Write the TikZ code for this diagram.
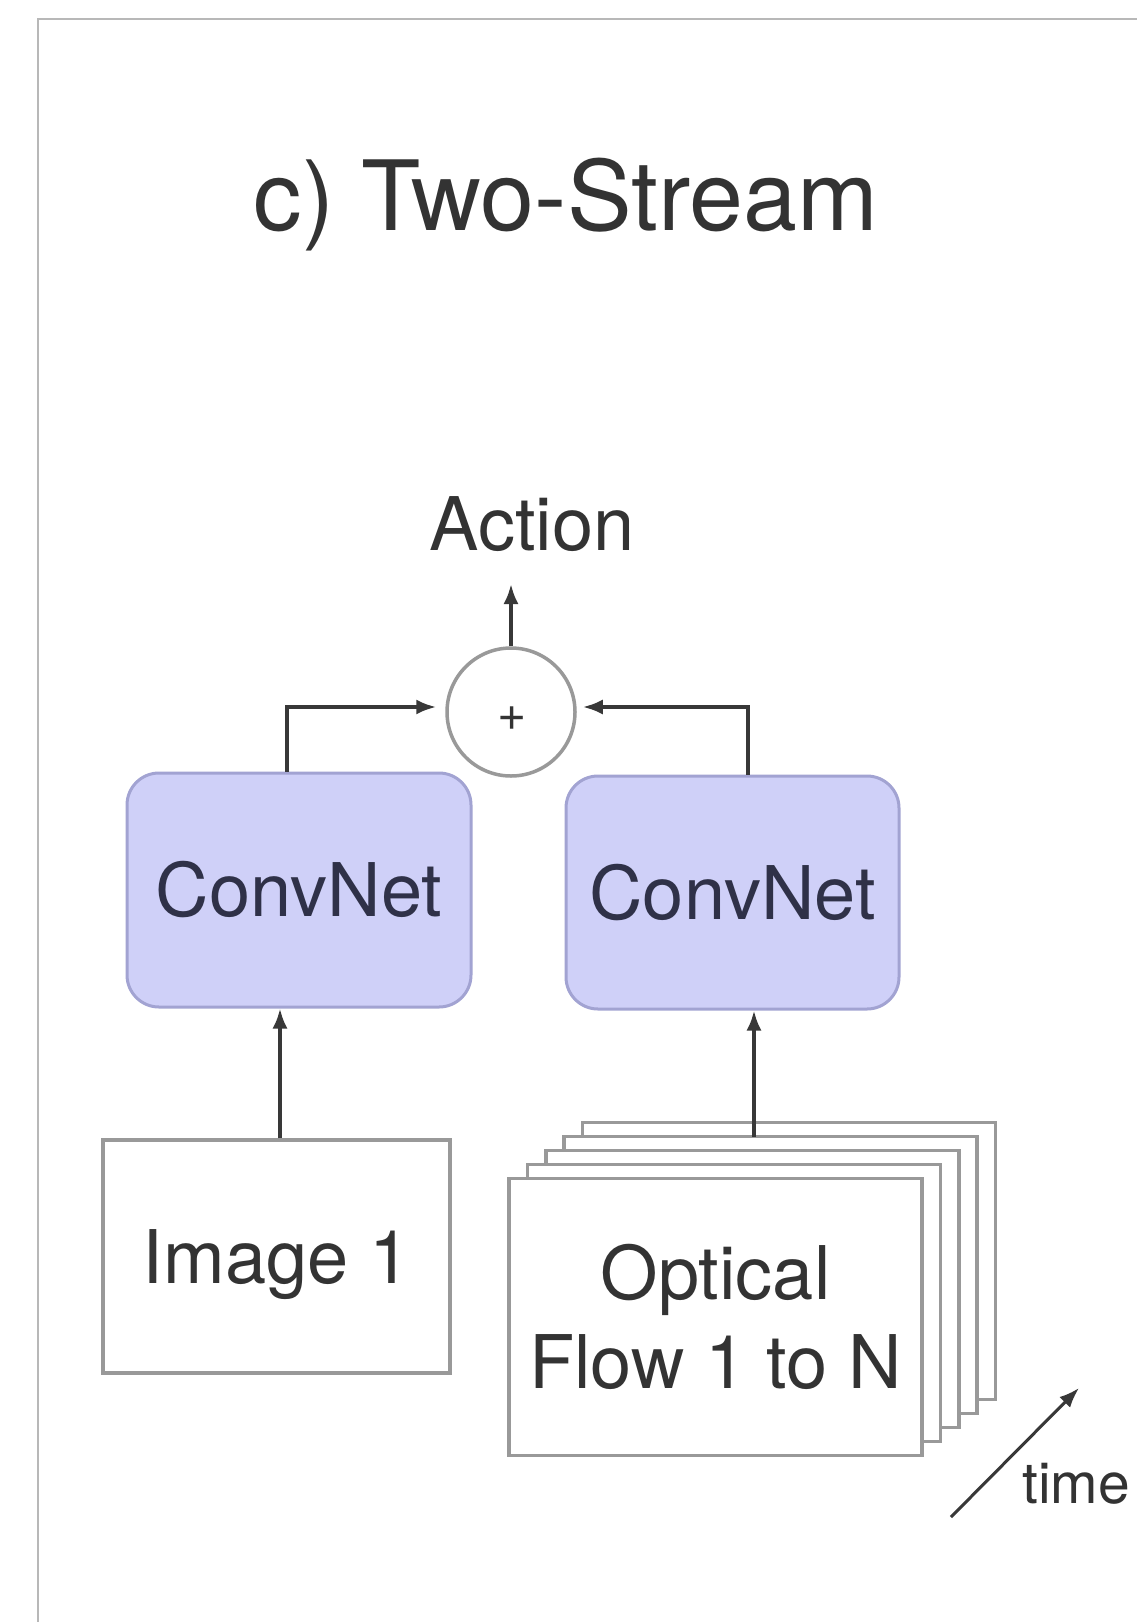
\documentclass[tikz,border=0pt]{standalone}
\usepackage{fontspec}
\setmainfont{TeX Gyre Heros}
\usetikzlibrary{arrows.meta,calc}
\definecolor{txt}{HTML}{333333}
\definecolor{cnfill}{HTML}{CFD0F8}
\definecolor{cnedge}{HTML}{A2A3D2}
\definecolor{cntxt}{HTML}{2F3148}
\definecolor{edgec}{HTML}{999999}
\definecolor{framec}{HTML}{B8B8B8}
\definecolor{linec}{HTML}{383838}
\begin{document}
\begin{tikzpicture}[x=1pt,y=-1pt,
  conv/.style={draw=cnedge, fill=cnfill, line width=3pt, rounded corners=32pt, text=cntxt,
    font=\fontsize{74}{89}\selectfont, inner sep=0pt},
  sheet/.style={draw=edgec, fill=white, line width=3.5pt, minimum width=413pt, minimum height=277pt, inner sep=0pt},
  lbl/.style={text=txt, font=\fontsize{74}{89}\selectfont, inner sep=0pt},
  arr/.style={draw=linec, line width=3.5pt, -{Latex[length=20pt,width=15pt]}},
]
\path[use as bounding box, fill=white] (0,0) rectangle (1137,1622);
\draw[framec, line width=2.5pt] (38,1622) -- (38,19) -- (1137,19);

\node[lbl, font=\fontsize{97}{110}\selectfont, anchor=base] (title) at (566,230) {c) Two-Stream};
\node[lbl, anchor=base] (action) at (532,550) {Action};

\node[circle, draw=edgec, line width=3.5pt, minimum size=128pt, inner sep=0pt, fill=white] (sum) at (511,712) {};
\node[lbl, font=\fontsize{50}{50}\selectfont] (plus) at (512,719) {+};

\node[conv, minimum width=344pt, minimum height=234pt] (cn1) at (299,890) {ConvNet};
\node[conv, minimum width=333pt, minimum height=233pt] (cn2) at (732.5,892.5) {ConvNet};

\node[sheet, lbl, minimum width=347pt, minimum height=233pt, text depth=0pt] (img) at (276.5,1256.5) {Image 1};

\foreach \i in {4,3,2,1}
  \node[sheet] (s\i) at ({715.5+18.4*\i},{1316.75-14*\i}) {};
\node[sheet, lbl, align=center] (s0) at (715.5,1316.75) {Optical\\Flow 1 to N};

\coordinate (f2) at (754,1137);
\draw[arr] (f2) -- (f2 |- cn2.south);
\draw[arr] ([xshift=3.5pt]img.north) -- ([xshift=3.5pt]img.north |- cn1.south);

\draw[arr, shorten >=9pt] ([xshift=-12pt]cn1.north) |- ([yshift=5pt]sum.west);
\draw[arr, shorten >=6pt] ([xshift=15.5pt]cn2.north) |- ([yshift=5pt]sum.east);
\draw[arr] (sum.north) -- (sum.north |- 0,584);

\coordinate (t0) at (951,1517);
\coordinate (t1) at (1079,1388);
\draw[arr, line width=3pt] (t0) -- (t1);
\node[lbl, font=\fontsize{57}{57}\selectfont, anchor=base west] (time) at (1022,1503) {time};
\end{tikzpicture}
\end{document}
